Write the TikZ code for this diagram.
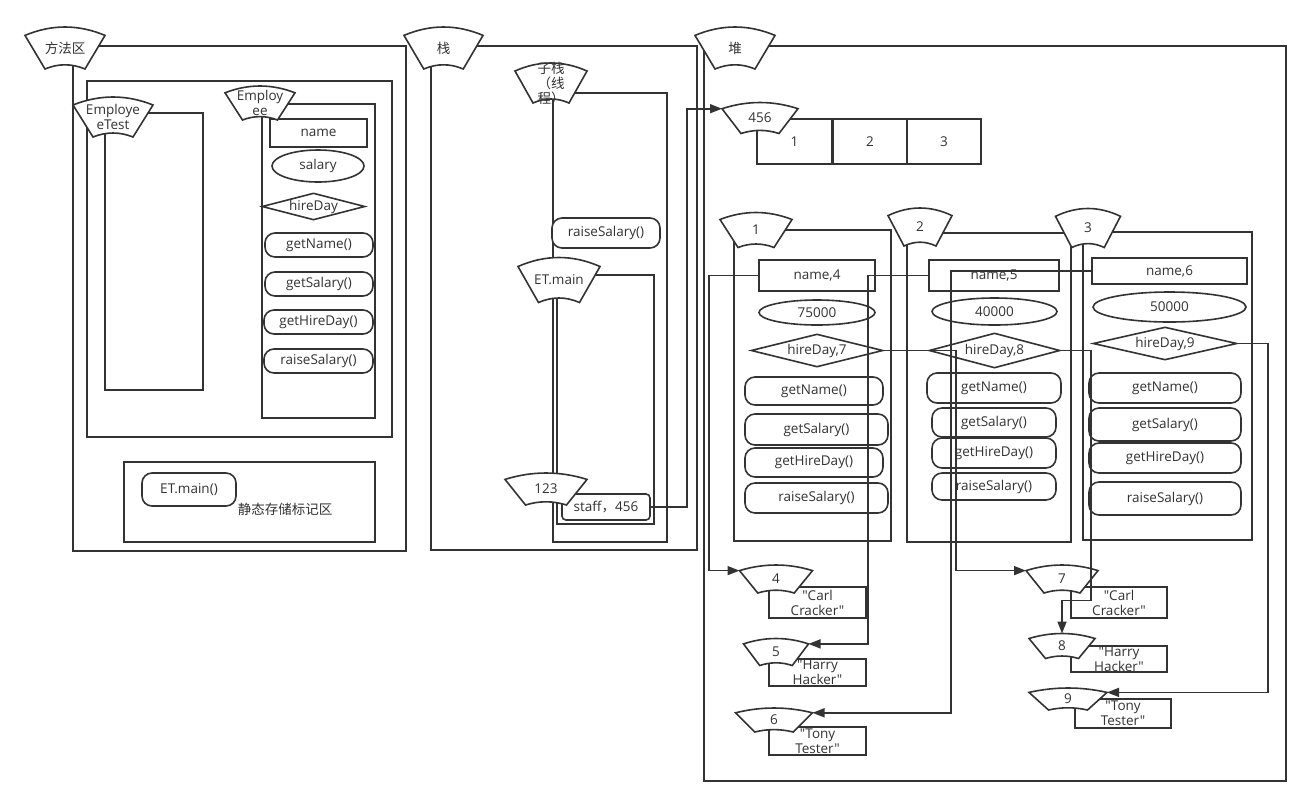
\documentclass[tikz,border=0pt]{standalone}
\usepackage{fontspec}
\setmainfont{Open Sans}[Ligatures=TeXOff]
\newfontfamily\cjk{Noto Sans CJK SC}
\usetikzlibrary{shapes.geometric,arrows.meta}
\definecolor{ink}{HTML}{333333}

\newcommand{\tabcard}[6]{%
  \pgfmathsetmacro\tabW{#4/2}%
  \pgfmathsetmacro\tabB{#4/4}%
  \pgfmathsetmacro\tabH{#5/2}%
  \pgfmathsetmacro\tabS{#5*0.2}%
  \pgfmathsetmacro\tabD{#5*0.1}%
  \draw[fill=white] (#2-\tabW,#3-\tabH+\tabS) .. controls (#2-\tabW/3,#3-\tabH-\tabS/3) and (#2+\tabW/3,#3-\tabH-\tabS/3) .. (#2+\tabW,#3-\tabH+\tabS)
    -- (#2+\tabB,#3+\tabH) .. controls (#2+\tabB/3,#3+\tabH-4*\tabD/3) and (#2-\tabB/3,#3+\tabH-4*\tabD/3) .. (#2-\tabB,#3+\tabH) -- cycle;
  \coordinate (#1L) at (#2-\tabW,#3-\tabH+\tabS);
  \coordinate (#1R) at (#2+\tabW,#3-\tabH+\tabS);
  \coordinate (#1T) at (#2,#3-\tabH);
  \node[align=center] (#1) at (#2,#3) {#6};
}

\begin{document}
\begin{tikzpicture}[x=1pt, y=-1pt, line width=1.6pt, color=ink,
  >={Triangle[length=12pt,width=9pt]},
  every node/.style={font=\fontsize{13.5}{15}\selectfont, text=ink, inner sep=0pt},
  field/.style={draw, fill=white},
  num/.style={draw, fill=white, ellipse},
  day/.style={draw, fill=white, diamond, shape aspect=4},
  meth/.style={draw, fill=white, rounded corners=10pt}]
  \path[use as bounding box, fill=white] (0,0) rectangle (1311,807);

  \draw (73,46) rectangle (406,551);
  \draw (87,81) rectangle (392,437);
  \draw (105,113) rectangle (203,390);
  \draw (262,104) rectangle (375,418);
  \draw (124,462) rectangle (375,542);
  \draw (431,46) rectangle (697,550);
  \draw (553,93) rectangle (667,542);
  \draw (557,275) rectangle (654,524);
  \draw (704,46) rectangle (1286,781);
  \draw (734,230) rectangle (891,541);
  \draw (907,233) rectangle (1071,542);
  \draw (1083,232) rectangle (1252,540);

  \node[field, minimum width=97, minimum height=28] (ename) at (318.5,133) {name};
  \node[num, minimum width=92, minimum height=32] (esal) at (318,166) {salary};
  \node[day, minimum width=103, minimum height=27] (ehire) at (313.5,206.5) {hireDay};
  \node[meth, minimum width=108, minimum height=24] (egn) at (319,245) {getName()};
  \node[meth, minimum width=108, minimum height=24] (egs) at (319,284) {getSalary()};
  \node[meth, minimum width=109, minimum height=24] (egh) at (318.5,322) {getHireDay()};
  \node[meth, minimum width=109, minimum height=24] (ers) at (318.5,361) {raiseSalary()};
  \node[meth, minimum width=94, minimum height=33] (etmain) at (189,489.5) {ET.main()};
  \node (stlabel) at (285,509) {\cjk 静态存储标记区};

  \node[meth, minimum width=108, minimum height=30] (srs) at (606,233) {raiseSalary()};
  \node[meth, rounded corners=4pt, minimum width=88, minimum height=26] (staff) at (606,507) {staff{\cjk ，}456};

  \node[field, minimum width=75, minimum height=45] (c1) at (794.5,141.5) {1};
  \node[field, minimum width=74, minimum height=45] (c2) at (870,141.5) {2};
  \node[field, minimum width=74, minimum height=45] (c3) at (944,141.5) {3};

  \node[field, minimum width=116, minimum height=31] (n4) at (817,275.5) {name,4};
  \node[num, minimum width=116, minimum height=25] (v1) at (817,312.5) {75000};
  \node[day, minimum width=132, minimum height=33] (h7) at (817,350.5) {hireDay,7};
  \node[meth, minimum width=138, minimum height=28] (m11) at (814,391) {getName()};
  \node[meth, minimum width=143, minimum height=31] (m12) at (816.5,429.5) {getSalary()};
  \node[meth, minimum width=138, minimum height=29] (m13) at (814,462.5) {getHireDay()};
  \node[meth, minimum width=143, minimum height=30] (m14) at (816.5,498) {raiseSalary()};

  \node[field, minimum width=130, minimum height=31] (n5) at (994,275.5) {name,5};
  \node[num, minimum width=125, minimum height=27] (v2) at (994.5,311.5) {40000};
  \node[day, minimum width=131, minimum height=35] (h8) at (994.5,350.5) {hireDay,8};
  \node[meth, minimum width=134, minimum height=30] (m21) at (994,388) {getName()};
  \node[meth, minimum width=124, minimum height=29] (m22) at (994,422.5) {getSalary()};
  \node[meth, minimum width=124, minimum height=30] (m23) at (994,453) {getHireDay()};
  \node[meth, minimum width=124, minimum height=27] (m24) at (994,486.5) {raiseSalary()};

  \node[field, minimum width=155, minimum height=26] (n6) at (1169.5,271) {name,6};
  \node[num, minimum width=153, minimum height=30] (v3) at (1169.5,307) {50000};
  \node[day, minimum width=144, minimum height=33] (h9) at (1165,343.5) {hireDay,9};
  \node[meth, minimum width=152, minimum height=30] (m31) at (1165,388) {getName()};
  \node[meth, minimum width=152, minimum height=33] (m32) at (1165,424.5) {getSalary()};
  \node[meth, minimum width=152, minimum height=30] (m33) at (1165,458) {getHireDay()};
  \node[meth, minimum width=152, minimum height=33] (m34) at (1165,498.5) {raiseSalary()};

  \node[field, align=center, minimum width=97, minimum height=31] (s4) at (817.5,602.5) {"Carl\\Cracker"};
  \node[field, align=center, minimum width=97, minimum height=27] (s5) at (817.5,672.5) {"Harry\\Hacker"};
  \node[field, align=center, minimum width=97, minimum height=28] (s6) at (817.5,741) {"Tony\\Tester"};
  \node[field, align=center, minimum width=96, minimum height=31] (s7) at (1119,602.5) {"Carl\\Cracker"};
  \node[field, align=center, minimum width=96, minimum height=26] (s8) at (1119,659) {"Harry\\Hacker"};
  \node[field, align=center, minimum width=96, minimum height=29] (s9) at (1123,713.5) {"Tony\\Tester"};

  \tabcard{tm}{65}{48}{80}{42}{\cjk 方法区}
  \tabcard{tet}{113}{117}{80}{40}{Employe\\eTest}
  \tabcard{temp}{260}{103}{70}{34}{Employ\\ee}
  \tabcard{ts}{443.5}{48}{79}{42}{\cjk 栈}
  \tabcard{tsub}{551}{83}{72}{40}{{\cjk 子栈}\\{\cjk （线}\\{\cjk 程）}}
  \tabcard{tetm}{559}{280}{82}{45}{ET.main}
  \tabcard{t123}{546}{489}{82}{32}{123}
  \tabcard{th}{735}{48}{80}{42}{\cjk 堆}
  \tabcard{t456}{760}{118}{76}{31}{456}
  \tabcard{t1}{756}{230}{72}{35}{1}
  \tabcard{t2}{920}{227}{64}{38}{2}
  \tabcard{t3}{1088}{228}{65}{39}{3}
  \tabcard{t4}{776}{579}{73}{28}{4}
  \tabcard{t5}{776}{652}{65}{27}{5}
  \tabcard{t6}{774}{720}{77}{24}{6}
  \tabcard{t7}{1062}{579}{72}{28}{7}
  \tabcard{t8}{1062}{646}{66}{25}{8}
  \tabcard{t9}{1068}{699}{78}{22}{9}

  \draw[->] (staff.east) -- ++(36,0) |- (t456L);
  \draw[->] (n4.west) -- ++(-49,0) |- (t4L);
  \draw[->] (n5.west) -- ++(-60,0) |- (t5R);
  \draw[->] (n6.west) -- ++(-140,0) |- (t6R);
  \draw[->] (h7.east) -- ++(72,0) |- (t7L);
  \draw[->] (h8.east) -- ++(30,0) -- ++(0,250) -| (t8T);
  \draw[->] (h9.east) -- ++(30,0) |- (t9R);
\end{tikzpicture}
\end{document}
